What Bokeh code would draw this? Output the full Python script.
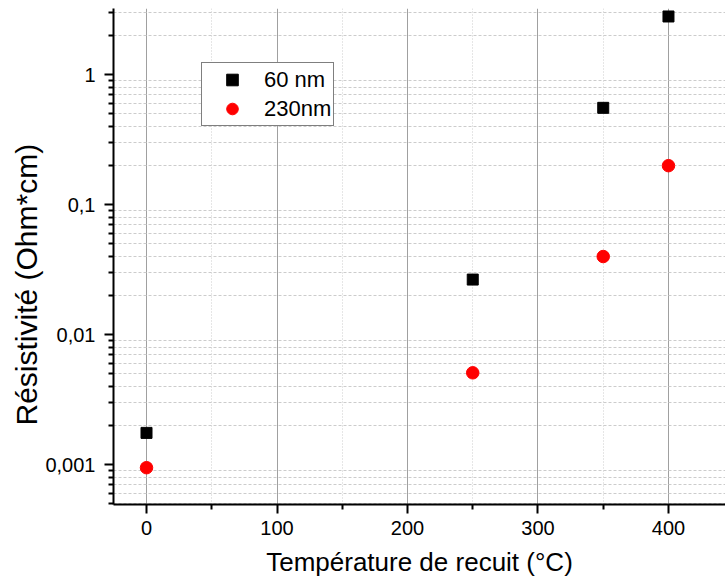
from bokeh.plotting import figure
from bokeh.models import FixedTicker, CustomJSTickFormatter, Range1d, Legend, Title
from bokeh.embed import file_html
from bokeh.resources import INLINE

# Data
temps = [0, 250, 350, 400]
res_60nm = [0.00176, 0.0266, 0.557, 2.81]
res_230nm = [0.00095, 0.0051, 0.040, 0.20]
series_names = ["60 nm", "230nm"]

x_major = [0, 100, 200, 300, 400]
x_minor = [50, 150, 250, 350]
y_major = [0.001, 0.01, 0.1, 1]
y_minor = [m * 10.0 ** e for e in range(-4, 1) for m in range(2, 10)]

x_title = "Température de recuit (°C)"
y_title = "Résistivité (Ohm*cm)"

FONT = "Liberation Sans"

p = figure(width=725, height=582, y_axis_type="log",
           x_range=Range1d(-25.3, 443.7), y_range=Range1d(0.000495, 3.236),
           output_backend="svg", toolbar_location=None,
           min_border_left=113, min_border_right=0, min_border_top=8,
           min_border_bottom=78)
p.outline_line_color = None
p.background_fill_color = "white"
p.border_fill_color = "white"

r1 = p.scatter(temps, res_60nm, marker="square", size=11, color="black")
r2 = p.scatter(temps, res_230nm, marker="circle", size=12.5, color="#ff0000")

# Axes
p.xaxis.ticker = FixedTicker(ticks=x_major, minor_ticks=x_minor)
p.yaxis.ticker = FixedTicker(ticks=y_major, minor_ticks=y_minor)
p.yaxis.formatter = CustomJSTickFormatter(code="return tick.toString().replace('.', ',');")

for ax in (p.xaxis, p.yaxis):
    ax.axis_line_color = "black"
    ax.axis_line_width = 2
    ax.major_tick_line_color = "black"
    ax.major_tick_line_width = 2
    ax.major_tick_out = 9
    ax.major_tick_in = 0
    ax.minor_tick_line_color = "black"
    ax.minor_tick_line_width = 2
    ax.minor_tick_out = 5
    ax.minor_tick_in = 0
    ax.major_label_text_font = FONT
    ax.major_label_text_font_size = "20px"
    ax.major_label_text_color = "black"
    ax.axis_label_text_font = FONT
    ax.axis_label_text_font_style = "normal"
    ax.axis_label_text_color = "black"

p.xaxis.axis_label = x_title
p.xaxis.axis_label_text_font_size = "26px"
p.xaxis.major_label_standoff = 7
p.xaxis.axis_label_standoff = 9

p.yaxis.major_label_standoff = 9

# Y axis title as a left-side title, placed like the reference (below centre)
p.add_layout(Title(text=y_title, align="left", offset=79, standoff=0,
                   text_font=FONT, text_font_size="30px",
                   text_font_style="normal", text_color="black"), "left")

# Grids
p.xgrid.grid_line_color = "#a0a0a0"
p.xgrid.grid_line_width = 1
p.xgrid.minor_grid_line_color = "#cccccc"
p.xgrid.minor_grid_line_dash = "1 2"
p.ygrid.grid_line_color = None
p.ygrid.minor_grid_line_color = "#cccccc"
p.ygrid.minor_grid_line_dash = "3 2"

# Legend
legend = Legend(items=[(series_names[0], [r1]), (series_names[1], [r2])],
                location=(88, 378), margin=0, padding=2, spacing=0,
                glyph_width=56, glyph_height=29, label_height=29,
                label_standoff=4,
                label_text_font=FONT, label_text_font_size="22px",
                label_text_color="black",
                border_line_color="black", border_line_width=1,
                background_fill_color="white", background_fill_alpha=1)
p.add_layout(legend, "center")

open("out.html", "w").write(file_html(p, INLINE))
